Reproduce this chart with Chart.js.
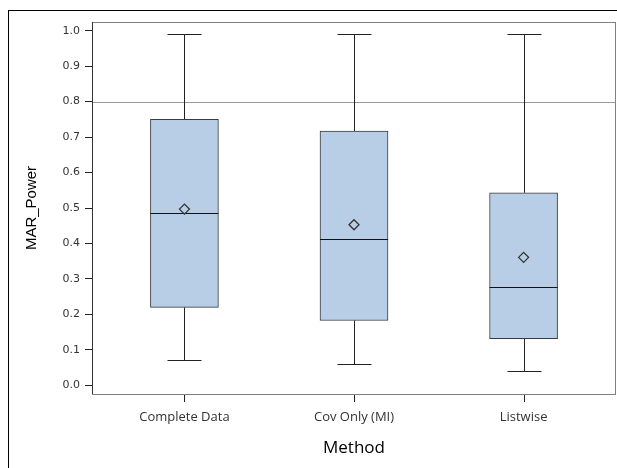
<!DOCTYPE html>
<html>
<head>
<meta charset="utf-8">
<script src="https://cdn.jsdelivr.net/npm/chart.js@4/dist/chart.umd.min.js"></script>
<style>
  html, body { margin: 0; padding: 0; background: #fff; }
  #wrap { position: relative; width: 617px; height: 468px; overflow: hidden; }
  #frame { position: absolute; left: 8px; top: 10px; width: 700px; height: 600px; border-left: 1px solid #000; border-top: 1px solid #000; pointer-events: none; }
  canvas { position: absolute; left: 0; top: 0; }
</style>
</head>
<body>
<div id="wrap">
  <canvas id="c" width="617" height="468"></canvas>
  <div id="frame"></div>
</div>
<script>
// ---- data ----
const categories = ['Complete Data', 'Cov Only (MI)', 'Listwise'];
const positions  = [1, 2, 3];
const whiskerLow  = [0.072, 0.061, 0.040];
const q1Values    = [0.220, 0.183, 0.132];
const medianValues= [0.486, 0.412, 0.276];
const q3Values    = [0.750, 0.717, 0.543];
const whiskerHigh = [0.990, 0.990, 0.991];
const meanValues  = [0.497, 0.453, 0.361];
const yTicks = [0.0, 0.1, 0.2, 0.3, 0.4, 0.5, 0.6, 0.7, 0.8, 0.9, 1.0];
const referenceLine = 0.8;

const BOX_FILL = '#b8cee6';
const BOX_EDGE = '#3a3a3a';
const BOX_PX = 68;
const TICK_LEN = 7;

const boxPlugin = {
  id: 'boxParts',
  beforeDatasetsDraw(chart) {
    const {ctx, chartArea, scales: {x, y}} = chart;
    ctx.save();
    ctx.strokeStyle = '#9a9a9a';
    ctx.lineWidth = 1;
    const ry = Math.round(y.getPixelForValue(referenceLine)) + 0.5;
    ctx.beginPath();
    ctx.moveTo(chartArea.left, ry);
    ctx.lineTo(chartArea.right, ry);
    ctx.stroke();
    ctx.strokeStyle = '#222';
    positions.forEach((p, i) => {
      const cx = Math.round(x.getPixelForValue(p)) + 0.5;
      const half = BOX_PX / 4;
      const yl = Math.round(y.getPixelForValue(whiskerLow[i])) + 0.5;
      const yh = Math.round(y.getPixelForValue(whiskerHigh[i])) + 0.5;
      const y1 = y.getPixelForValue(q1Values[i]);
      const y3 = y.getPixelForValue(q3Values[i]);
      ctx.beginPath();
      ctx.moveTo(cx, yh); ctx.lineTo(cx, y3);
      ctx.moveTo(cx, y1); ctx.lineTo(cx, yl);
      ctx.moveTo(cx - half, yh); ctx.lineTo(cx + half, yh);
      ctx.moveTo(cx - half, yl); ctx.lineTo(cx + half, yl);
      ctx.stroke();
    });
    ctx.restore();
  },
  afterDatasetDraw(chart, args) {
    if (args.index !== 0) return;
    const {ctx, scales: {x, y}} = chart;
    ctx.save();
    ctx.strokeStyle = '#111';
    ctx.lineWidth = 1;
    positions.forEach((p, i) => {
      const cx = x.getPixelForValue(p);
      const ym = Math.round(y.getPixelForValue(medianValues[i])) + 0.5;
      ctx.beginPath();
      ctx.moveTo(cx - BOX_PX / 2, ym);
      ctx.lineTo(cx + BOX_PX / 2, ym);
      ctx.stroke();
    });
    ctx.restore();
  },
  afterDraw(chart) {
    const {ctx, chartArea: a, scales: {x}} = chart;
    ctx.save();
    ctx.strokeStyle = '#808080';
    ctx.lineWidth = 1;
    ctx.strokeRect(Math.round(a.left) + 0.5, Math.round(a.top) + 0.5, Math.round(a.right - a.left) - 1, Math.round(a.bottom - a.top));
    ctx.strokeStyle = '#333';
    ctx.beginPath();
    ctx.moveTo(Math.round(a.left) + 0.5, a.top);
    ctx.lineTo(Math.round(a.left) + 0.5, a.bottom);
    ctx.stroke();
    // x tick marks at the category positions
    ctx.strokeStyle = '#222';
    ctx.lineWidth = 1;
    ctx.beginPath();
    positions.forEach(p => {
      const px = Math.round(x.getPixelForValue(p)) + 0.5;
      ctx.moveTo(px, Math.round(a.bottom) + 1);
      ctx.lineTo(px, Math.round(a.bottom) + 1 + TICK_LEN);
    });
    ctx.stroke();
    ctx.restore();
  }
};

new Chart(document.getElementById('c'), {
  type: 'bar',
  data: {
    datasets: [
      {
        type: 'bar',
        data: positions.map((p, i) => ({x: p, y: [q1Values[i], q3Values[i]]})),
        backgroundColor: BOX_FILL,
        borderColor: BOX_EDGE,
        borderWidth: 1,
        borderSkipped: false,
        barThickness: BOX_PX,
        order: 2
      },
      {
        type: 'scatter',
        data: positions.map((p, i) => ({x: p, y: meanValues[i]})),
        pointStyle: 'rectRot',
        pointRadius: 5,
        pointBorderWidth: 1.3,
        pointBorderColor: '#333',
        pointBackgroundColor: BOX_FILL,
        showLine: false,
        order: 1
      }
    ]
  },
  options: {
    responsive: false,
    animation: false,
    devicePixelRatio: 1,
    layout: { autoPadding: false, padding: { left: 0, right: 1, top: 22, bottom: 0 } },
    plugins: { legend: { display: false }, tooltip: { enabled: false } },
    scales: {
      x: {
        type: 'linear',
        min: 0.455,
        max: 3.545,
        offset: false,
        afterBuildTicks(s) { s.ticks = positions.map(v => ({value: v})); },
        afterFit(s) { s.height = 74; s.paddingLeft = 0; s.paddingRight = 0; },
        ticks: {
          callback(v) { const i = positions.indexOf(v); return i >= 0 ? categories[i] : ''; },
          color: '#333',
          font: { family: 'Open Sans', size: 13 },
          padding: 7,
          maxRotation: 0,
          autoSkip: false
        },
        grid: { display: false },
        border: { display: false },
        title: {
          display: true,
          text: 'Method',
          color: '#000',
          font: { family: 'Open Sans', size: 17 },
          padding: { top: 0, bottom: 10 }
        }
      },
      y: {
        type: 'linear',
        min: -0.0243,
        max: 1.0245,
        afterBuildTicks(s) { s.ticks = yTicks.map(v => ({value: v})); },
        afterFit(s) { s.width = 92; },
        ticks: {
          callback(v) { return Number(v).toFixed(1); },
          color: '#333',
          font: { family: 'DejaVu Sans', size: 11 },
          padding: 5
        },
        grid: { drawOnChartArea: false, drawTicks: true, tickLength: TICK_LEN, color: '#222', lineWidth: 1 },
        border: { display: false },
        title: {
          display: true,
          text: 'MAR_Power',
          color: '#000',
          font: { family: 'Liberation Sans', size: 15 },
          padding: { top: 23, bottom: 0 }
        }
      }
    }
  },
  plugins: [boxPlugin]
});
</script>
</body>
</html>
